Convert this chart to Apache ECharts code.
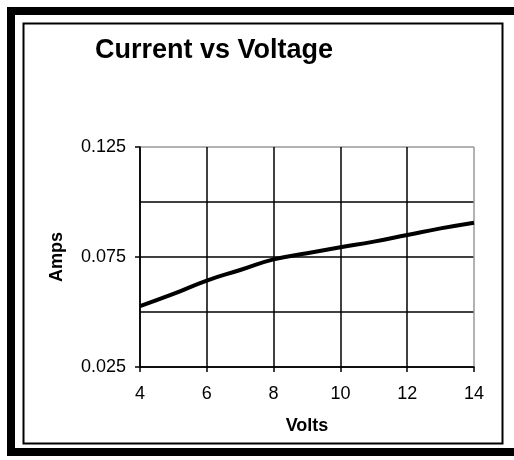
<!DOCTYPE html>
<html>
<head>
<meta charset="utf-8">
<script src="https://cdn.jsdelivr.net/npm/echarts@6/dist/echarts.min.js"></script>
<style>
html,body{margin:0;padding:0;background:#fff;}
#c{width:514px;height:460px;}
</style>
</head>
<body>
<div id="c"></div>
<script>
var volts = [4, 5, 6, 7, 8, 9, 10, 11, 12, 13, 14];
var amps = [0.0527, 0.0582, 0.0643, 0.0691, 0.0739, 0.0767, 0.0794, 0.0820, 0.0850, 0.0880, 0.0906];
var yTickLabels = [0.025, 0.075, 0.125];
var titleText = 'Current vs Voltage';
var xName = 'Volts';
var yName = 'Amps';

var chart = echarts.init(document.getElementById('c'), null, {renderer: 'canvas'});
var font = '"Liberation Sans", Arial, sans-serif';
var data = volts.map(function (v, i) { return [v, amps[i]]; });

chart.setOption({
  backgroundColor: '#fff',
  animation: false,
  title: {
    text: titleText,
    left: 90,
    top: 32,
    textStyle: {fontFamily: font, fontSize: 27, fontWeight: 'bold', color: '#000'}
  },
  graphic: [
    {type: 'rect', shape: {x: 11, y: 11, width: 620, height: 441}, style: {fill: null, stroke: '#000', lineWidth: 8}, silent: true},
    {type: 'rect', shape: {x: 23.5, y: 23.5, width: 479, height: 420}, style: {fill: null, stroke: '#000', lineWidth: 2}, silent: true}
  ],
  grid: {left: 140, right: 40, top: 147, bottom: 93, containLabel: false},
  xAxis: {
    type: 'value',
    min: 4, max: 14, interval: 2,
    name: xName,
    nameLocation: 'middle',
    nameGap: 50,
    nameTextStyle: {fontFamily: font, fontSize: 18, fontWeight: 'bold', color: '#000'},
    axisLine: {show: true, onZero: false, lineStyle: {color: '#000', width: 1.5}},
    axisTick: {show: true, inside: false, length: 5, lineStyle: {color: '#000', width: 1.5}},
    axisLabel: {fontFamily: font, fontSize: 18, color: '#000', margin: 18},
    splitLine: {show: true, lineStyle: {color: ['#000', '#000', '#000', '#000', '#000', '#999'], width: 1.5}}
  },
  yAxis: [{
    type: 'value',
    min: 0.025, max: 0.125, interval: 0.025,
    name: yName,
    nameLocation: 'middle',
    nameRotate: 90,
    nameGap: 74,
    nameTextStyle: {fontFamily: font, fontSize: 18, fontWeight: 'bold', color: '#000'},
    axisLine: {show: true, onZero: false, lineStyle: {color: '#000', width: 1.5}},
    axisTick: {show: true, inside: false, length: 5, customValues: yTickLabels, lineStyle: {color: '#000', width: 1.5}},
    axisLabel: {fontFamily: font, fontSize: 18, color: '#000', margin: 14, customValues: yTickLabels,
      formatter: function (v) { return v.toFixed(3); }},
    splitLine: {show: false},
    z: 3
  }, {
    type: 'value',
    position: 'left',
    min: 0.025, max: 0.125, interval: 0.025,
    axisLine: {show: false},
    axisTick: {show: false},
    axisLabel: {show: false},
    splitLine: {show: true, lineStyle: {color: ['#000', '#000', '#000', '#000', '#999'], width: 1.5}}
  }],
  series: [{
    type: 'line',
    yAxisIndex: 0,
    data: data,
    smooth: true,
    showSymbol: false,
    lineStyle: {color: '#000', width: 4},
    z: 5
  }]
});
</script>
</body>
</html>
